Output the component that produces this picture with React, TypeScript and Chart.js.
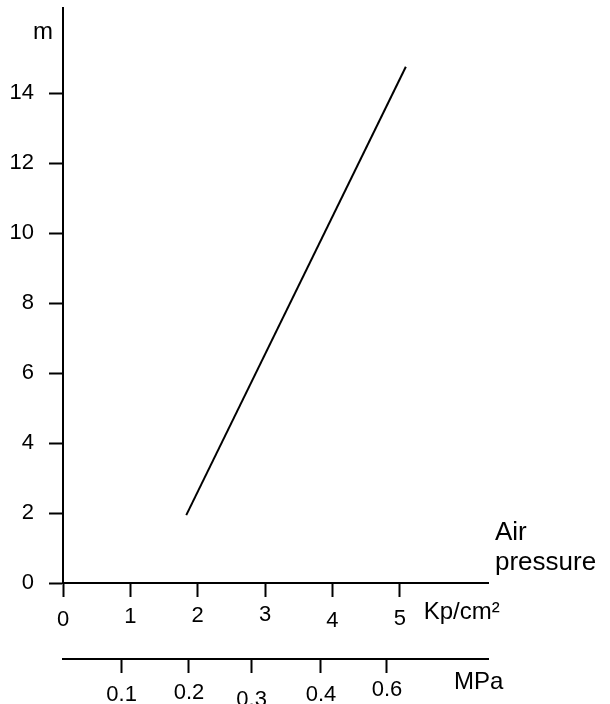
import { useEffect, useRef } from 'react';
import { Chart, registerables } from 'chart.js';

Chart.register(...registerables);

// ---- data ----
const kpTicks = [0, 1, 2, 3, 4, 5];
const kpUnit = 'Kp/cm²';
const mpaLabels = ['0.1', '0.2', '0.3', '0.4', '0.6'];
const mpaAtKp = [0.87, 1.87, 2.8, 3.83, 4.81];
const mpaUnit = 'MPa';
const heightTicks = [0, 2, 4, 6, 8, 10, 12, 14];
const heightUnit = 'm';
const lineKp = [1.83, 5.09];
const lineM = [1.94, 14.75];
const titleLines = ['Air', 'pressure'];

// ---- layout (data units) ----
const X_MIN = 0;
const X_MAX = 6.31;
const Y_MIN = 0;
const Y_MAX = 16.43;
const KP_UNIT_AT = 5.92;
const MPA_UNIT_AT = 6.17;
const M_UNIT_AT = 15.74;
const TITLE_AT = [1.43, 0.57];

// ---- style: per-label line heights (vertical stagger) ----
const kpDrop = [46, 40, 38, 36, 48, 44, 30];
const mpaDrop = [44, 40, 54, 44, 34, 18];

const FONT = "'Liberation Sans', Arial, Helvetica, sans-serif";
const TICK_SIZE = 22;
const UNIT_SIZE = 24;
const TITLE_SIZE = 26;

const noPad = (s: any) => {
  s.paddingTop = 0;
  s.paddingBottom = 0;
  s.paddingLeft = 0;
  s.paddingRight = 0;
};

export default function App() {
  const ref = useRef<HTMLCanvasElement | null>(null);

  useEffect(() => {
    if (!ref.current) return;
    Chart.defaults.font.family = FONT;
    Chart.defaults.color = '#000';

    const kpAll = [...kpTicks, KP_UNIT_AT];
    const kpText = [...kpTicks.map(String), kpUnit];
    const mpaAll = [...mpaAtKp, MPA_UNIT_AT];
    const mpaText = [...mpaLabels, mpaUnit];
    const transparentLast = (n: number) => (ctx: any) => (ctx.index === n - 1 ? 'rgba(0,0,0,0)' : '#000');

    const chart = new Chart(ref.current, {
      type: 'line',
      data: {
        datasets: [
          {
            data: lineKp.map((x, i) => ({ x, y: lineM[i] })),
            borderColor: '#000',
            borderWidth: 2,
            pointRadius: 0,
            fill: false,
            xAxisID: 'x',
            yAxisID: 'y',
          },
        ],
      },
      options: {
        animation: false,
        responsive: false,
        maintainAspectRatio: false,
        devicePixelRatio: 1,
        layout: { padding: { top: 8, left: 0, right: 0, bottom: 0 } },
        plugins: { legend: { display: false }, tooltip: { enabled: false } },
        scales: {
          x: {
            type: 'linear',
            position: 'bottom',
            weight: 0,
            min: X_MIN,
            max: X_MAX,
            afterBuildTicks: (s: any) => {
              s.ticks = kpAll.map((v) => ({ value: v }));
            },
            afterFit: (s: any) => {
              s.height = 76;
              noPad(s);
            },
            border: { display: true, color: '#000', width: 2 },
            grid: {
              drawOnChartArea: false,
              drawTicks: true,
              tickLength: 14,
              tickWidth: 2,
              tickColor: transparentLast(kpAll.length),
            },
            ticks: {
              autoSkip: false,
              maxRotation: 0,
              minRotation: 0,
              padding: 0,
              callback: (_v: any, i: number) => kpText[i],
              font: (ctx: any) => {
                const size = ctx.index === kpAll.length - 1 ? UNIT_SIZE : TICK_SIZE;
                return { family: FONT, size, lineHeight: (kpDrop[ctx.index] ?? 40) / size };
              },
            },
          },
          mpa: {
            type: 'linear',
            position: 'bottom',
            weight: 1,
            min: X_MIN,
            max: X_MAX,
            afterBuildTicks: (s: any) => {
              s.ticks = mpaAll.map((v) => ({ value: v }));
            },
            afterFit: (s: any) => {
              s.height = 45;
              noPad(s);
            },
            border: { display: true, color: '#000', width: 2 },
            grid: {
              drawOnChartArea: false,
              drawTicks: true,
              tickLength: 14,
              tickWidth: 2,
              tickColor: transparentLast(mpaAll.length),
            },
            ticks: {
              autoSkip: false,
              maxRotation: 0,
              minRotation: 0,
              padding: 0,
              callback: (_v: any, i: number) => mpaText[i],
              font: (ctx: any) => {
                const size = ctx.index === mpaAll.length - 1 ? UNIT_SIZE : TICK_SIZE;
                return { family: FONT, size, lineHeight: (mpaDrop[ctx.index] ?? 40) / size };
              },
            },
          },
          y: {
            type: 'linear',
            position: 'left',
            weight: 0,
            min: Y_MIN,
            max: Y_MAX,
            afterBuildTicks: (s: any) => {
              s.ticks = heightTicks.map((v) => ({ value: v }));
            },
            afterFit: (s: any) => {
              s.width = 63;
              noPad(s);
            },
            border: { display: true, color: '#000', width: 2 },
            grid: {
              drawOnChartArea: false,
              drawTicks: true,
              tickLength: 14,
              tickWidth: 2,
              tickColor: '#000',
            },
            ticks: {
              autoSkip: false,
              padding: 15,
              callback: (_v: any, i: number) => String(heightTicks[i]),
              font: { family: FONT, size: TICK_SIZE },
            },
          },
          ym: {
            type: 'linear',
            position: 'left',
            weight: 5,
            min: Y_MIN,
            max: Y_MAX,
            afterBuildTicks: (s: any) => {
              s.ticks = [{ value: M_UNIT_AT }];
            },
            afterFit: (s: any) => {
              s.width = 0;
              noPad(s);
            },
            border: { display: false },
            grid: { display: false, drawTicks: false, drawOnChartArea: false },
            ticks: {
              autoSkip: false,
              mirror: true,
              padding: 33,
              callback: () => heightUnit,
              font: { family: FONT, size: UNIT_SIZE },
            },
          },
          yr: {
            type: 'linear',
            position: 'right',
            min: Y_MIN,
            max: Y_MAX,
            afterBuildTicks: (s: any) => {
              s.ticks = TITLE_AT.map((v) => ({ value: v }));
            },
            afterFit: (s: any) => {
              s.width = 122;
              noPad(s);
            },
            border: { display: false },
            grid: { display: false, drawTicks: false, drawOnChartArea: false },
            ticks: {
              autoSkip: false,
              padding: 7,
              callback: (_v: any, i: number) => titleLines[i],
              font: { family: FONT, size: TITLE_SIZE },
            },
          },
        },
      },
    });

    return () => chart.destroy();
  }, []);

  return (
    <div style={{ position: 'absolute', left: 0, top: 0, width: 610, height: 704, background: '#fff' }}>
      <canvas ref={ref} width={610} height={704} style={{ display: 'block', width: 610, height: 704 }} />
    </div>
  );
}
